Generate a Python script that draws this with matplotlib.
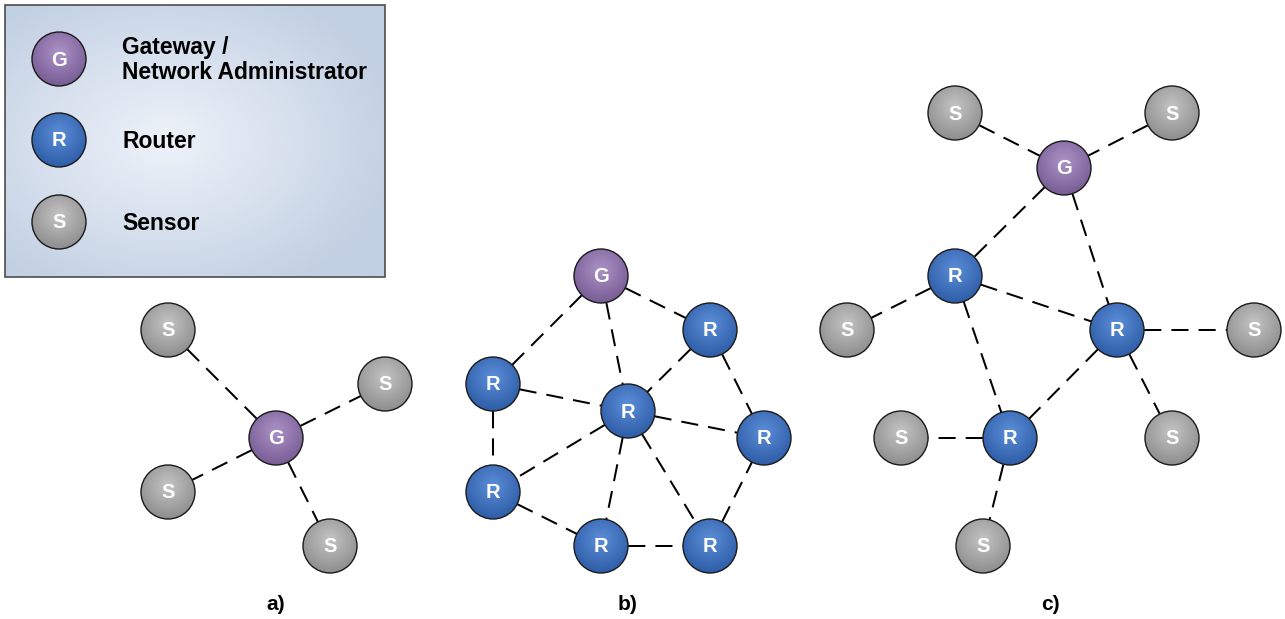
import matplotlib
matplotlib.use("Agg")
import matplotlib.pyplot as plt
import numpy as np
from matplotlib.patches import Circle, Rectangle

# node kinds and pixel positions (x, y measured from top-left)
a_kinds = ["G", "S", "S", "S", "S"]
a_x = [276, 168, 385, 168, 330]
a_y = [438, 330, 384, 492, 546]
a_edges = [(0, 1), (0, 2), (0, 3), (0, 4)]

b_kinds = ["G", "R", "R", "R", "R", "R", "R", "R"]
b_x = [601, 710, 493, 628, 764, 493, 601, 710]
b_y = [276, 330, 384, 411, 438, 492, 546, 546]
b_edges = [(0, 2), (0, 3), (0, 1), (1, 3), (1, 4), (2, 3), (2, 5), (3, 4),
           (3, 5), (3, 6), (3, 7), (5, 6), (6, 7), (7, 4)]

c_kinds = ["G", "S", "S", "R", "R", "S", "S", "S", "R", "S", "S"]
c_x = [1064, 955, 1172, 955, 1117, 847, 1254, 901, 1010, 1172, 983]
c_y = [168, 113, 113, 276, 330, 330, 330, 438, 438, 438, 546]
c_edges = [(1, 0), (2, 0), (0, 3), (0, 4), (3, 4), (3, 5), (3, 8), (4, 6),
           (4, 8), (4, 9), (8, 7), (8, 10)]

panel_labels = ["a)", "b)", "c)"]
panel_label_x = [276, 628, 1050]

legend_kinds = ["G", "R", "S"]
legend_text = ["Gateway /\nNetwork Administrator", "Router", "Sensor"]
legend_y = [59, 140, 222]

# (highlight colour, edge colour) of each node kind
node_colors = {
    "G": ("#ac93c6", "#765a93"),
    "R": ("#5c8ed8", "#2d5ba6"),
    "S": ("#c4c4c4", "#8c8c8c"),
}
R_NODE = 27

W, H = 1285, 619
fig = plt.figure(figsize=(W / 100, H / 100), dpi=100)
ax = fig.add_axes([0, 0, 1, 1])
ax.set_xlim(0, W)
ax.set_ylim(H, 0)
ax.axis("off")


def hex_rgb(h):
    return np.array(matplotlib.colors.to_rgb(h))


def radial_img(c0, c1, n=64, cx=0.0, cy=-0.25, scale=1.3):
    g = np.linspace(-1, 1, n)
    xx, yy = np.meshgrid(g, g)
    t = np.clip(np.sqrt((xx - cx) ** 2 + (yy - cy) ** 2) / scale, 0, 1)[..., None]
    return (1 - t) * hex_rgb(c0) + t * hex_rgb(c1)


def draw_node(x, y, kind):
    c0, c1 = node_colors[kind]
    img = radial_img(c0, c1)
    im = ax.imshow(img, extent=(x - R_NODE, x + R_NODE, y + R_NODE, y - R_NODE),
                   origin="upper", zorder=3, interpolation="bilinear")
    clip = Circle((x, y), R_NODE, transform=ax.transData)
    im.set_clip_path(clip)
    ax.add_patch(Circle((x, y), R_NODE, fill=False, ec="#1a1a1a", lw=1.0, zorder=4))
    ax.text(x, y + 1, kind, color="white", fontsize=14.5, fontweight="bold",
            family="Liberation Sans", ha="center", va="center", zorder=5)


def draw_panel(kinds, xs, ys, edges):
    for i, j in edges:
        ax.plot([xs[i], xs[j]], [ys[i], ys[j]], color="black", lw=1.45,
                dashes=(8.5, 5), zorder=2)
    for k, x, y in zip(kinds, xs, ys):
        draw_node(x, y, k)


# legend box with radial gradient
bx0, by0, bx1, by1 = 5, 5, 385, 277
bg = radial_img("#eef2f9", "#c2d0e3", n=200, cx=-0.15, cy=0.0, scale=1.25)
ax.imshow(bg, extent=(bx0, bx1, by1, by0), origin="upper", zorder=0,
          aspect="auto", interpolation="bilinear")
ax.add_patch(Rectangle((bx0, by0), bx1 - bx0, by1 - by0, fill=False,
                       ec="#4d4d4d", lw=1.2, zorder=1))
for k, t, y in zip(legend_kinds, legend_text, legend_y):
    draw_node(59, y, k)
    ax.text(122, y + 1, t, fontsize=16.5, fontweight="bold", family="Liberation Sans",
            ha="left", va="center", linespacing=1.12, zorder=5)

draw_panel(a_kinds, a_x, a_y, a_edges)
draw_panel(b_kinds, b_x, b_y, b_edges)
draw_panel(c_kinds, c_x, c_y, c_edges)

for lab, x in zip(panel_labels, panel_label_x):
    ax.text(x, 604, lab, fontsize=15, fontweight="bold", family="Liberation Sans",
            ha="center", va="center")

fig.savefig("out.png", dpi=100)
